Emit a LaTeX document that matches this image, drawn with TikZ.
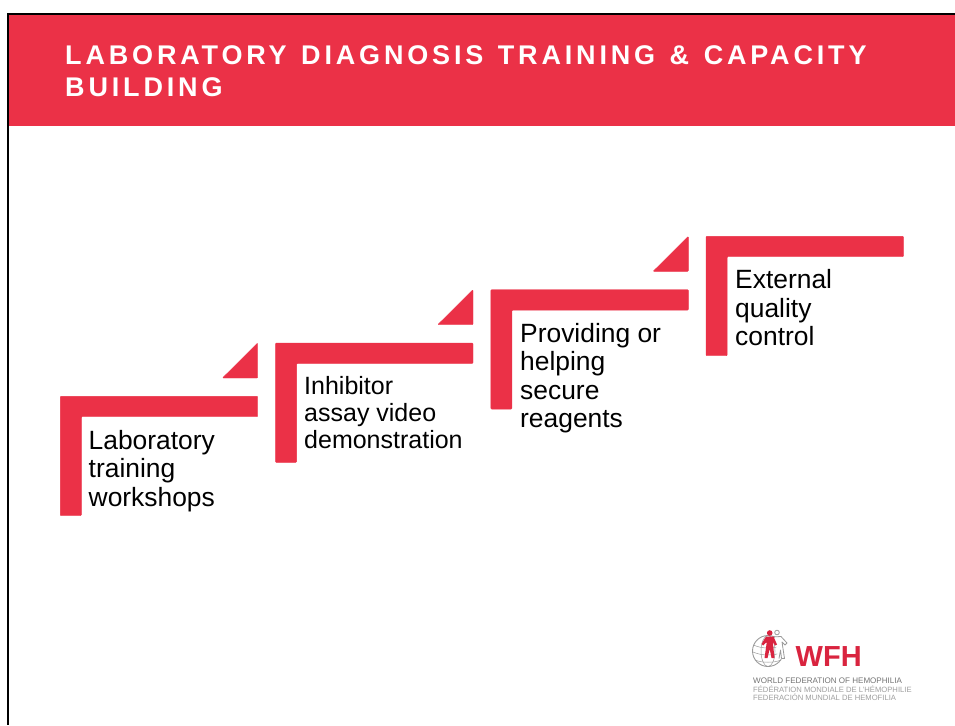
\documentclass[tikz,border=0pt]{standalone}
\usepackage{fontspec}
\setmainfont{Liberation Sans}
\newfontfamily\titlefont[LetterSpace=14.2,WordSpace=1.28]{Liberation Sans Bold}
\definecolor{wfhred}{HTML}{EB3147}
\definecolor{logored}{HTML}{D9243F}
\definecolor{logogray}{HTML}{9A9A9A}
\tikzset{
  stepfill/.style={fill=wfhred,draw=wfhred,line width=0.4pt,rounded corners=0.8pt},
  steptext/.style={anchor=north west,inner sep=0pt,align=left,text=black},
  bigtext/.style={steptext,font=\fontsize{26.4}{28.5}\selectfont},
  midtext/.style={steptext,font=\fontsize{25}{27}\selectfont},
  logoline/.style={anchor=base west,inner sep=0pt,font=\fontsize{8.05}{9}\selectfont},
  logolinesmall/.style={anchor=base west,inner sep=0pt,font=\fontsize{7.65}{9}\selectfont},
}
\begin{document}
\begin{tikzpicture}[x=1pt,y=-1pt]
\useasboundingbox (0,0) rectangle (955,725);
% header and frame
\fill[wfhred] (9,15) rectangle (955,126);
\fill[black] (7,13) rectangle (955,15);
\fill[black] (7,13) rectangle (9,725);
\node[anchor=base west,inner sep=0pt,align=left,text=white,
  font=\fontsize{27}{32}\selectfont\titlefont] (title) at (65,96)
  {LABORATORY DIAGNOSIS TRAINING \& CAPACITY\\BUILDING};
% steps
\foreach \dx/\dy in {0/0,215.3/-53.3,430.6/-106.6,645.8/-160}{
  \begin{scope}[shift={(\dx,\dy)}]
    \filldraw[stepfill] (60.3,396.3) -- (257.7,396.3) -- (257.7,416.7) -- (81.3,416.7)
      -- (81.3,515.7) -- (60.3,515.7) -- cycle;
  \end{scope}
}
\foreach \dx/\dy in {0/0,215.3/-53.3,430.6/-106.6}{
  \begin{scope}[shift={(\dx,\dy)}]
    \filldraw[stepfill] (222.5,378) -- (257.7,343) -- (257.7,378) -- cycle;
  \end{scope}
}
% texts
\node[bigtext] (t1) at (88.5,430) {Laboratory\\training\\workshops};
\node[midtext] (t2) at (304,376) {Inhibitor\\assay video\\demonstration};
\node[bigtext] (t3) at (520,323) {Providing or\\helping\\secure\\reagents};
\node[bigtext] (t4) at (735,269.5) {External\\quality\\control};
% logo
\begin{scope}
  \draw[logogray,line width=0.9pt] (768,651) circle (15.5);
  \draw[logogray,line width=0.5pt] (768,651) ellipse (7 and 15.5);
  \draw[logogray,line width=0.5pt] (753.5,645) .. controls (762,649) and (774,649) .. (782.5,645);
  \draw[logogray,line width=0.5pt] (753,652) .. controls (762,656) and (774,656) .. (783,652);
  \draw[logogray,line width=0.5pt] (755,660) .. controls (762,663) and (774,663) .. (781,660);
  % outlined figure
  \fill[white] (775,637) -- (783,637) -- (787,643) -- (785,659) -- (778,659) -- cycle;
  \draw[logogray,line width=0.8pt] (777,632.5) circle (2.3);
  \draw[logogray,line width=0.8pt,line join=round] (772,637) -- (781,636.5) -- (787,643) -- (785,645) -- (782,642) -- (784.5,658.5) -- (781.5,658.5) -- (780.5,650) -- (779,658.5);
  % red figure
  \fill[logored] (769.7,633) circle (2.8);
  \fill[logored] (766,636.5) -- (773.5,636.5) -- (777,644.5) -- (775,645.5) -- (772.8,642) -- (774.5,658) -- (771.5,658) -- (769.7,649) -- (767.5,658) -- (764.5,658) -- (766.8,642) -- (763,645.5) -- (761.5,644) -- cycle;
\end{scope}
\node[anchor=base west,inner sep=0pt,text=logored,font=\fontsize{29}{30}\selectfont\bfseries] (wfh) at (795.5,666) {WFH};
\node[logoline,text=black!55] (l1) at (753,683) {WORLD FEDERATION OF HEMOPHILIA};
\node[logolinesmall,text=black!38] (l2) at (753,692) {FÉDÉRATION MONDIALE DE L’HÉMOPHILIE};
\node[logolinesmall,text=black!38] (l3) at (753,700.5) {FEDERACIÓN MUNDIAL DE HEMOFILIA};
\end{tikzpicture}
\end{document}
